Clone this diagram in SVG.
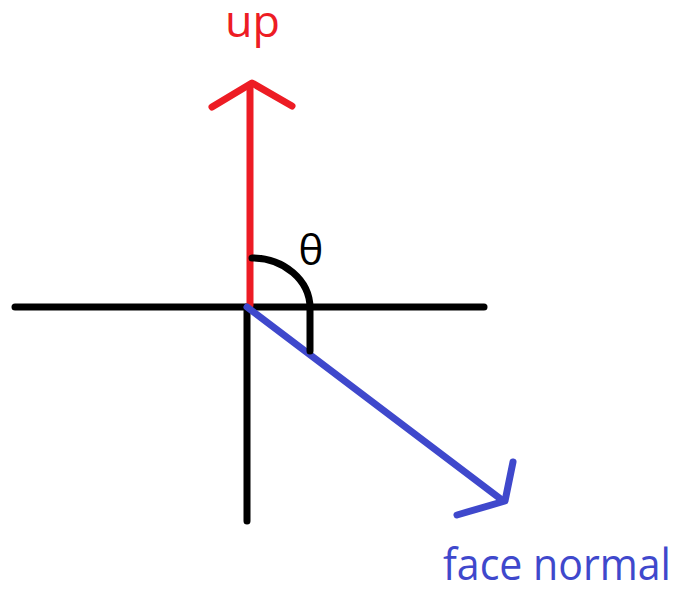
<svg xmlns="http://www.w3.org/2000/svg" width="676" height="589" viewBox="0 0 676 589">
<style>
.ln{fill:none;stroke-linecap:round;stroke-linejoin:round}
.t{font-family:"Open Sans","Liberation Sans",sans-serif}
</style>
<rect width="676" height="589" fill="#fff"/>
<g id="axes">
<line class="ln" x1="15" y1="307" x2="484" y2="307" stroke="#000" stroke-width="7"/>
<line class="ln" x1="247" y1="307" x2="247" y2="521" stroke="#000" stroke-width="7"/>
</g>
<g id="connectors">
<g id="up-arrow">
<line class="ln" x1="250" y1="86" x2="250" y2="305" stroke="#ed1c24" stroke-width="7"/>
<polyline class="ln" points="212,107 252,83 292,106" stroke="#ed1c24" stroke-width="7"/>
</g>
<g id="normal-arrow">
<line class="ln" x1="247" y1="307" x2="502" y2="500" stroke="#3f48cc" stroke-width="7"/>
<polyline class="ln" points="513,462 505,501 457,515" stroke="#3f48cc" stroke-width="7"/>
</g>
<g id="angle">
<path class="ln" d="M252,258 A58,50 0 0 1 310,308 L310,351" stroke="#000" stroke-width="7"/>
</g>
</g>
<g id="labels">
<text class="t" x="225" y="37" font-size="44" fill="#ed1c24" textLength="55" lengthAdjust="spacingAndGlyphs">up</text>
<text class="t" x="311" y="265" font-size="42" fill="#000" text-anchor="middle">θ</text>
<text class="t" x="443" y="580" font-size="44" fill="#3f48cc" textLength="228" lengthAdjust="spacingAndGlyphs">face normal</text>
</g>
</svg>
